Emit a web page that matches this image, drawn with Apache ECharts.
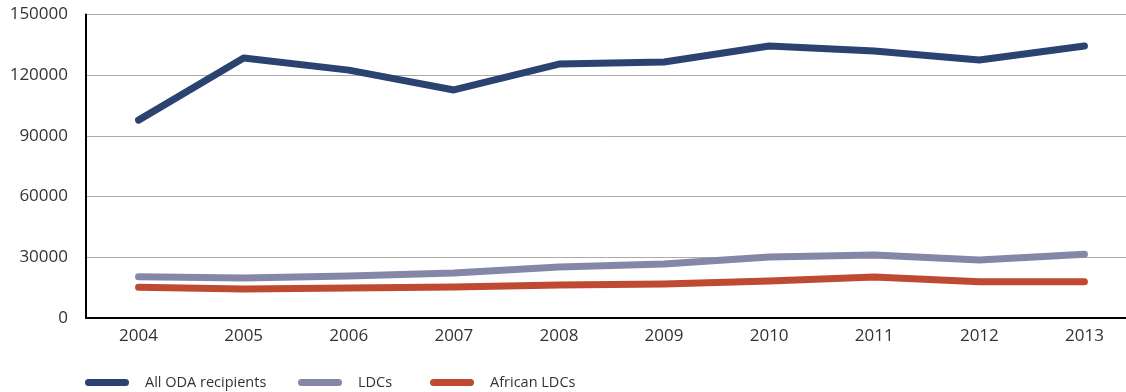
<!DOCTYPE html>
<html><head><meta charset="utf-8">
<script src="https://cdn.jsdelivr.net/npm/echarts@6/dist/echarts.min.js"></script>
<style>html,body{margin:0;padding:0;background:#fff}#c{width:1126px;height:392px}</style>
</head><body><div id="c"></div>
<script>
const years = ['2004','2005','2006','2007','2008','2009','2010','2011','2012','2013'];
const allODA = [97800, 128500, 122500, 112700, 125500, 126500, 134400, 132000, 127500, 134400];
const ldcs = [20400, 19800, 20800, 22200, 25200, 26700, 30200, 31100, 28700, 31500];
const africanLDCs = [15200, 14300, 14800, 15300, 16300, 16800, 18300, 20300, 17900, 17900];
const seriesNames = ['All ODA recipients', 'LDCs', 'African LDCs'];
const colors = ['#2b4370', '#8587a8', '#bf4a31'];

const font = 'Open Sans';
const cap = 'path://M3.5,0 L40.5,0 A3.5,3.5 0 0 1 40.5,7 L3.5,7 A3.5,3.5 0 0 1 3.5,0 Z';
const chart = echarts.init(document.getElementById('c'), null, {renderer: 'canvas'});
const mk = (name, data, color) => ({
  name, type: 'line', data, symbol: 'none', color,
  lineStyle: {width: 7, color, cap: 'round', join: 'round'}
});
const legendLeft = [80, 293, 425];
chart.setOption({
  animation: false,
  textStyle: {fontFamily: font},
  grid: {left: 86, top: 14.5, height: 303.5, width: 1051, outerBoundsMode: 'none'},
  legend: seriesNames.map((n, i) => ({
    left: legendLeft[i], top: 370, itemWidth: 44, itemHeight: 7,
    icon: cap,
    textStyle: {fontSize: 14.5, color: '#333', fontFamily: font, padding: [0,0,0,11]},
    data: [{name: n}]
  })),
  xAxis: {
    type: 'category', data: years, boundaryGap: true,
    axisLine: {lineStyle: {color: '#000', width: 2}},
    axisTick: {show: false},
    axisLabel: {color: '#333', fontSize: 17, margin: 10}
  },
  yAxis: {
    type: 'value', min: 0, max: 150000, interval: 30000,
    axisLine: {show: true, lineStyle: {color: '#000', width: 2}},
    axisTick: {show: false},
    axisLabel: {color: '#333', fontSize: 17, margin: 18, formatter: v => String(v)},
    splitLine: {lineStyle: {color: '#aaaaaa', width: 1}}
  },
  series: [
    mk(seriesNames[0], allODA, colors[0]),
    mk(seriesNames[1], ldcs, colors[1]),
    mk(seriesNames[2], africanLDCs, colors[2])
  ]
});
</script></body></html>
